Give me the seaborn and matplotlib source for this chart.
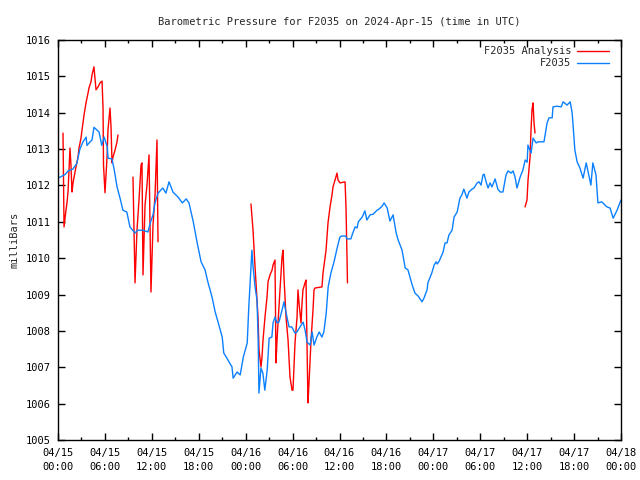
import numpy as np
import pandas as pd
import matplotlib
matplotlib.use("Agg")
import matplotlib.pyplot as plt
import matplotlib.dates as mdates
from matplotlib.lines import Line2D
import seaborn as sns

# hours after 2024-04-15 00:00 UTC, pressure in millibars
station_hours = [0.0, 0.9, 1.3, 1.9, 2.4, 2.8, 3.2, 3.6, 3.7, 4.1, 4.35, 4.6, 5.0, 5.25,
                 5.6, 5.9, 6.3, 6.4, 6.9, 7.2, 7.55, 7.9, 8.3, 8.8, 9.2, 9.85, 10.2, 10.9,
                 11.5, 11.8, 12.15, 12.4, 12.8, 13.4, 13.8, 14.2, 14.7, 15.35, 15.9, 16.4,
                 16.75, 17.3, 17.8, 18.3, 18.8, 19.2, 19.7, 20.1, 20.5, 21.0, 21.2, 21.6,
                 22.25, 22.4, 22.9, 23.3, 23.7, 24.2, 24.4, 24.8, 24.95, 25.2, 25.45, 25.6,
                 25.7, 25.95, 26.2, 26.45, 26.75, 27.0, 27.35, 27.5, 27.75, 28.0, 28.25,
                 28.65, 28.9, 29.3, 29.55, 29.9, 30.3, 30.55, 30.95, 31.35, 31.6, 31.85,
                 32.25, 32.5, 32.75, 33.1, 33.4, 33.75, 34.0, 34.3, 34.55, 34.9, 35.3,
                 35.7, 36.05, 36.3, 36.8, 36.95, 37.45, 37.75, 38.0, 38.25, 38.4, 38.9,
                 39.25, 39.5, 39.9, 40.3, 40.8, 41.05, 41.45, 41.7, 42.1, 42.45, 42.85,
                 43.25, 43.5, 44.0, 44.4, 44.75, 45.3, 45.65, 46.05, 46.55, 46.8, 47.2,
                 47.3, 47.8, 48.1, 48.35, 48.5, 48.75, 49.25, 49.5, 49.75, 50.0, 50.4,
                 50.65, 51.05, 51.4, 51.65, 51.9, 52.3, 52.55, 52.95, 53.2, 53.6, 53.85,
                 54.1, 54.35, 54.5, 54.75, 55.0, 55.25, 55.5, 55.9, 56.25, 56.55, 56.9,
                 57.3, 57.55, 57.95, 58.2, 58.45, 58.7, 59.1, 59.45, 59.75, 60.0, 60.1,
                 60.5, 60.75, 61.15, 61.4, 62.15, 62.55, 62.8, 63.2, 63.3, 63.8, 64.35,
                 64.6, 65.1, 65.5, 65.75, 65.85, 66.1, 66.4, 66.75, 67.15, 67.55, 67.8,
                 68.15, 68.4, 68.8, 69.05, 69.55, 69.95, 70.2, 70.6, 71.0, 71.5, 72.0]
station_mb = [1012.2, 1012.3, 1012.4, 1012.45, 1012.6, 1013.0, 1013.2, 1013.33, 1013.1,
              1013.2, 1013.25, 1013.6, 1013.52, 1013.47, 1013.1, 1013.33, 1013.06, 1012.75,
              1012.73, 1012.42, 1011.96, 1011.68, 1011.32, 1011.27, 1010.86, 1010.69,
              1010.77, 1010.77, 1010.72, 1010.97, 1011.19, 1011.52, 1011.79, 1011.93,
              1011.79, 1012.1, 1011.82, 1011.68, 1011.52, 1011.63, 1011.52, 1011.0,
              1010.42, 1009.9, 1009.68, 1009.32, 1008.93, 1008.52, 1008.22, 1007.83,
              1007.39, 1007.25, 1007.01, 1006.7, 1006.87, 1006.79, 1007.28, 1007.67,
              1008.66, 1010.22, 1009.76, 1009.21, 1008.85, 1007.75, 1006.29, 1006.98,
              1006.84, 1006.37, 1006.92, 1007.8, 1007.83, 1008.22, 1008.38, 1008.22,
              1008.24, 1008.57, 1008.8, 1008.36, 1008.11, 1008.11, 1007.94, 1007.97,
              1008.11, 1008.24, 1008.02, 1007.69, 1007.61, 1007.97, 1007.61, 1007.83,
              1007.97, 1007.83, 1007.97, 1008.49, 1009.21, 1009.59, 1009.9, 1010.28,
              1010.58, 1010.61, 1010.61, 1010.53, 1010.53, 1010.72, 1010.86, 1010.83,
              1011.0, 1011.13, 1011.3, 1011.05, 1011.19, 1011.21, 1011.32, 1011.35,
              1011.43, 1011.52, 1011.38, 1011.02, 1011.19, 1010.69, 1010.5, 1010.22,
              1009.73, 1009.68, 1009.26, 1009.04, 1008.96, 1008.8, 1008.9, 1009.13,
              1009.32, 1009.59, 1009.81, 1009.9, 1009.84, 1009.92, 1010.17, 1010.42,
              1010.42, 1010.64, 1010.77, 1011.13, 1011.27, 1011.65, 1011.74, 1011.9,
              1011.65, 1011.82, 1011.9, 1011.93, 1012.07, 1012.1, 1012.01, 1012.29,
              1012.31, 1012.1, 1011.93, 1012.07, 1011.96, 1012.18, 1011.9, 1011.82,
              1011.82, 1012.29, 1012.4, 1012.34, 1012.4, 1012.23, 1011.93, 1012.23,
              1012.42, 1012.7, 1012.64, 1013.11, 1012.89, 1013.3, 1013.17, 1013.2,
              1013.2, 1013.72, 1013.86, 1013.86, 1014.16, 1014.18, 1014.16, 1014.3,
              1014.21, 1014.3, 1014.0, 1013.72, 1012.97, 1012.64, 1012.48, 1012.2,
              1012.62, 1012.37, 1012.01, 1012.62, 1012.29, 1011.52, 1011.55, 1011.46,
              1011.41, 1011.38, 1011.1, 1011.32, 1011.6]

# analysis series comes in four separate pieces
analysis_hours_1 = [0.64, 0.77, 1.02, 1.15, 1.28, 1.41, 1.53, 1.66, 1.79, 1.92, 2.3, 2.56,
                    2.69, 2.94, 3.07, 3.33, 3.58, 3.84, 3.96, 4.22, 4.35, 4.6, 4.86, 5.12,
                    5.37, 5.63, 5.76, 5.82, 6.01, 6.27, 6.39, 6.65, 6.78, 6.91, 7.03, 7.29,
                    7.55, 7.67]
analysis_mb_1 = [1013.44, 1010.86, 1011.32, 1011.52, 1011.82, 1012.42, 1013.03, 1012.56,
                 1011.82, 1012.07, 1012.51, 1012.78, 1013.03, 1013.3, 1013.52, 1013.94,
                 1014.27, 1014.54, 1014.68, 1014.85, 1015.04, 1015.26, 1014.63, 1014.71,
                 1014.82, 1014.87, 1014.13, 1012.56, 1011.8, 1012.78, 1013.52, 1014.13,
                 1013.61, 1012.62, 1012.78, 1012.97, 1013.2, 1013.39]
analysis_hours_2 = [9.59, 9.85, 10.1, 10.36, 10.62, 10.74, 10.87, 11.13, 11.38, 11.64,
                    11.89, 12.15, 12.41, 12.66, 12.79]
analysis_mb_2 = [1012.23, 1009.32, 1010.77, 1011.6, 1012.56, 1012.62, 1009.54, 1011.46,
                 1012.01, 1012.84, 1009.07, 1010.91, 1011.74, 1013.25, 1010.45]
analysis_hours_3 = [24.68, 24.94, 25.2, 25.45, 25.58, 25.71, 25.96, 26.09, 26.22, 26.47,
                    26.73, 26.86, 27.11, 27.37, 27.5, 27.75, 27.88, 28.01, 28.39, 28.65,
                    28.78, 28.9, 29.16, 29.42, 29.67, 29.93, 30.05, 30.18, 30.31, 30.57,
                    30.69, 30.82, 31.08, 31.21, 31.33, 31.59, 31.72, 31.85, 31.97, 32.1,
                    32.36, 32.61, 32.74, 32.87, 33.76, 33.89, 34.28, 34.53, 34.79, 35.04,
                    35.17, 35.43, 35.68, 35.81, 36.07, 36.71, 36.83, 36.96, 37.02]
analysis_mb_3 = [1011.49, 1010.77, 1009.76, 1008.85, 1008.38, 1007.47, 1007.01, 1007.28,
                 1007.75, 1008.38, 1008.93, 1009.35, 1009.54, 1009.67, 1009.81, 1009.95,
                 1007.12, 1007.75, 1009.13, 1010.03, 1010.22, 1009.48, 1008.38, 1007.75,
                 1006.73, 1006.37, 1006.37, 1007.01, 1007.67, 1008.38, 1009.13, 1008.77,
                 1008.22, 1008.77, 1009.13, 1009.32, 1009.4, 1007.56, 1006.02, 1006.57,
                 1007.75, 1008.57, 1009.13, 1009.18, 1009.21, 1009.59, 1010.22, 1010.97,
                 1011.41, 1011.74, 1011.96, 1012.15, 1012.34, 1012.15, 1012.07, 1012.1,
                 1011.41, 1010.03, 1009.32]
analysis_hours_4 = [59.73, 59.98, 60.11, 60.37, 60.49, 60.62, 60.75, 60.88, 61.0]
analysis_mb_4 = [1011.41, 1011.6, 1012.15, 1012.78, 1013.52, 1014.08, 1014.27, 1013.72,
                 1013.44]

start = pd.Timestamp("2024-04-15 00:00")
station = pd.DataFrame({"time": start + pd.to_timedelta(station_hours, unit="h"),
                        "mb": station_mb})
pieces = []
for i, (h, p) in enumerate([(analysis_hours_1, analysis_mb_1), (analysis_hours_2, analysis_mb_2),
                            (analysis_hours_3, analysis_mb_3), (analysis_hours_4, analysis_mb_4)]):
    pieces.append(pd.DataFrame({"time": start + pd.to_timedelta(h, unit="h"),
                                "mb": p, "seg": i}))
analysis = pd.concat(pieces, ignore_index=True)

red = "#ff0000"
blue = "#0a80ff"

sns.set_style("ticks")
plt.rcParams["font.family"] = ["DejaVu Sans Mono"]
plt.rcParams["font.size"] = 7.5

fig = plt.figure(figsize=(6.4, 4.8), dpi=100)
ax = fig.add_axes([58 / 640, 40 / 480, 563 / 640, 400 / 480])

sns.lineplot(data=analysis, x="time", y="mb", units="seg", estimator=None,
             color=red, linewidth=1.0, ax=ax)
sns.lineplot(data=station, x="time", y="mb", color=blue, linewidth=1.0, ax=ax)

ax.set_xlim(start, start + pd.Timedelta(hours=72))
ax.set_ylim(1005, 1016)
ax.set_yticks(range(1005, 1017))
ax.xaxis.set_major_locator(mdates.HourLocator(byhour=range(0, 24, 6)))
ax.xaxis.set_minor_locator(mdates.HourLocator(byhour=range(3, 24, 6)))
ax.xaxis.set_major_formatter(mdates.DateFormatter("%m/%d\n%H:%M"))

ax.tick_params(which="both", direction="in", top=True, right=True, colors="black",
               labelsize=7.5)
ax.tick_params(which="major", length=5, width=1)
ax.tick_params(which="minor", length=2.5, width=1)
ax.tick_params(axis="y", pad=5)
ax.tick_params(axis="x", pad=6)
for s in ax.spines.values():
    s.set_visible(True)
    s.set_color("black")
    s.set_linewidth(1)

ax.set_xlabel("")
ax.set_ylabel("milliBars", labelpad=5)
ax.set_title("Barometric Pressure for F2035 on 2024-Apr-15 (time in UTC)", pad=11,
             fontsize=7.5)

handles = [Line2D([], [], color=red, lw=1.0), Line2D([], [], color=blue, lw=1.0)]
ax.legend(handles, ["F2035 Analysis", "F2035"], loc="upper right",
          bbox_to_anchor=(0.989, 1.0), frameon=False,
          markerfirst=False, handlelength=3.0, handletextpad=0.6, labelspacing=0.2,
          borderaxespad=0.2, fontsize=7.5)

fig.canvas.draw()
for lbl in ax.get_xticklabels():
    lbl.set_linespacing(1.45)

fig.savefig("out.png", dpi=100)
